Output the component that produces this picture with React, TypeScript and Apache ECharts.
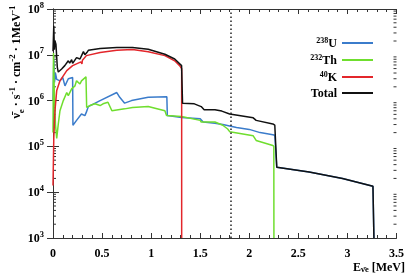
import React, { useEffect, useRef } from "react";
import * as echarts from "echarts";

// [E (MeV), flux] pairs
const u238: [number, number][] = [
  [0, 1e6], [0.008, 8e6], [0.015, 2.5e6], [0.025, 4e6], [0.038, 2.9e6], [0.071, 2.7e6],
  [0.099, 3.2e6], [0.122, 2.1e6], [0.156, 3.0e6], [0.2, 3.2e6], [0.203, 2.9e5],
  [0.24, 3.7e5], [0.29, 5.1e5], [0.325, 4.7e5], [0.34, 5.6e5], [0.36, 7.4e5],
  [0.48, 1.0e6], [0.65, 1.5e6], [0.68, 1.18e6], [0.73, 8.8e5], [0.8, 1.0e6],
  [0.97, 1.18e6], [1.16, 1.22e6], [1.165, 4.7e5], [1.31, 4.3e5], [1.5, 4.0e5],
  [1.53, 3.4e5], [1.65, 3.2e5], [1.73, 3.0e5], [1.87, 2.6e5], [2.0, 2.35e5],
  [2.11, 2.0e5], [2.24, 1.8e5], [2.26, 1.75e5], [2.28, 3.5e4], [2.61, 2.76e4],
  [2.95, 2.0e4], [3.26, 1.35e4], [3.27, 1e3],
];
const th232: [number, number][] = [
  [0, 2e5], [0.005, 1.1e7], [0.012, 2e6], [0.025, 3e5], [0.038, 1.5e5], [0.054, 3.1e5],
  [0.071, 6.0e5], [0.105, 1.0e6], [0.14, 1.5e6], [0.156, 1.28e6], [0.19, 1.8e6],
  [0.224, 2.1e6], [0.24, 2.7e6], [0.275, 2.3e6], [0.29, 2.7e6], [0.336, 3.3e6],
  [0.343, 7.1e5], [0.376, 7.8e5], [0.427, 8.5e5], [0.48, 7.8e5], [0.51, 8.5e5],
  [0.56, 9.2e5], [0.6, 6.0e5], [0.73, 6.6e5], [0.81, 7.1e5], [0.97, 7.4e5],
  [1.14, 6.0e5], [1.157, 4.7e5], [1.31, 4.5e5], [1.5, 3.7e5], [1.51, 3.4e5],
  [1.65, 3.4e5], [1.73, 2.9e5], [1.78, 2.4e5], [1.8, 2.1e5], [2.04, 1.7e5],
  [2.07, 1.35e5], [2.24, 1.05e5], [2.25, 1e5], [2.251, 1e3],
];
const k40: [number, number][] = [
  [0, 1.4e4], [0.008, 1.5e5], [0.02, 6e5], [0.038, 1.66e6], [0.071, 2.7e6],
  [0.14, 4.5e6], [0.2, 5.8e6], [0.285, 7.0e6], [0.295, 6.3e6], [0.3, 7.6e6],
  [0.34, 9.6e6], [0.48, 1.12e7], [0.65, 1.26e7], [0.81, 1.3e7], [0.97, 1.17e7],
  [1.14, 9.6e6], [1.24, 7.4e6], [1.29, 5.8e6], [1.311, 5.0e6], [1.311, 1e3],
];
const total: [number, number][] = [
  [0, 1.2e7], [0.008, 4.3e7], [0.014, 1.3e7], [0.02, 2e7], [0.03, 1.7e7],
  [0.044, 5.3e6], [0.054, 4.2e6], [0.088, 4.9e6], [0.12, 5.8e6], [0.156, 7.4e6],
  [0.17, 6.6e6], [0.19, 7.8e6], [0.2, 6.5e6], [0.24, 8.7e6], [0.275, 8.1e6],
  [0.31, 1.17e7], [0.325, 1.0e7], [0.345, 1.12e7], [0.36, 1.25e7], [0.48, 1.38e7],
  [0.65, 1.45e7], [0.81, 1.45e7], [0.97, 1.32e7], [1.14, 1.03e7], [1.24, 8.1e6],
  [1.31, 5.8e6], [1.32, 8.7e5], [1.44, 8.5e5], [1.51, 7.4e5], [1.54, 6.3e5],
  [1.65, 6.3e5], [1.72, 5.9e5], [1.8, 5.1e5], [2.04, 4.2e5], [2.07, 3.7e5],
  [2.24, 3.1e5], [2.26, 2.9e5], [2.28, 3.5e4], [2.61, 2.76e4], [2.95, 2.0e4],
  [3.26, 1.35e4], [3.27, 1e3],
];

const seriesNames = ["238U", "232Th", "40K", "Total"];
const legendLabels: Record<string, string> = {
  "238U": "{sup|238}{b|U}",
  "232Th": "{sup|232}{b|Th}",
  "40K": "{sup|40}{b|K}",
  Total: "{b|Total}",
};
const threshold = 1.806;
const xMin = 0;
const xMax = 3.5;
const xStep = 0.5;
const yMin = 1e3;
const yMax = 1e8;
const yMinorTicks: number[] = [];
for (let d = 1e3; d < 1e8; d *= 10) for (let m = 2; m <= 9; m++) yMinorTicks.push(m * d);

const FONT = "'Liberation Serif', 'Times New Roman', serif";
const AX = "#333";

export default function App() {
  const ref = useRef<HTMLDivElement>(null);
  useEffect(() => {
    document.body.style.margin = "0";
    const chart = echarts.init(ref.current!, null, { renderer: "svg" });
    const richBase = {
      b: { fontFamily: FONT, fontWeight: "bold", fontSize: 12, lineHeight: 18, color: "#000", verticalAlign: "middle" },
      sup: { fontFamily: FONT, fontWeight: "bold", fontSize: 8.5, lineHeight: 10, color: "#000", verticalAlign: "top" },
      sub: { fontFamily: FONT, fontWeight: "bold", fontSize: 8.5, lineHeight: 10, color: "#000", verticalAlign: "bottom" },
    };
    const line = (name: string, data: [number, number][], color: string, extra: any = {}) => ({
      name,
      type: "line",
      data,
      showSymbol: false,
      symbol: "none",
      color,
      lineStyle: { color, width: 1.5 },
      silent: true,
      ...extra,
    });
    chart.setOption({
      animation: false,
      grid: { left: 53, right: 10, top: 8, bottom: 40 },
      xAxis: [
        {
          type: "value", min: xMin, max: xMax, interval: xStep, position: "bottom",
          axisLine: { lineStyle: { color: AX } },
          axisTick: { inside: true, length: 5, lineStyle: { color: AX } },
          minorTick: { show: true, splitNumber: 5, length: 3, lineStyle: { color: AX } },
          splitLine: { show: false },
          axisLabel: {
            margin: 9, fontFamily: FONT, fontWeight: "bold", fontSize: 12, color: "#000",
            formatter: (v: number) => String(v),
          },
        },
        {
          type: "value", min: xMin, max: xMax, interval: xStep, position: "top",
          axisLine: { show: true, lineStyle: { color: AX } },
          axisTick: { show: true, inside: true, length: 5, lineStyle: { color: AX } },
          minorTick: { show: true, splitNumber: 5, length: 3, lineStyle: { color: AX } },
          splitLine: { show: false },
          axisLabel: { show: false },
        },
      ],
      yAxis: [
        {
          type: "log", logBase: 10, min: yMin, max: yMax, position: "left",
          axisLine: { show: true, lineStyle: { color: AX } },
          axisTick: { show: true, inside: true, length: 6, lineStyle: { color: AX } },
          splitLine: { show: false },
          axisLabel: {
            margin: 9,
            formatter: (v: number) => `{b|10}{sup|${Math.round(Math.log10(v))}}`,
            rich: richBase,
          },
        },
        {
          type: "log", logBase: 10, min: yMin, max: yMax, position: "right",
          axisLine: { show: true, lineStyle: { color: AX } },
          axisTick: { show: true, inside: true, length: 6, lineStyle: { color: AX } },
          splitLine: { show: false },
          axisLabel: { show: false },
        },
      ],
      legend: {
        data: seriesNames,
        orient: "vertical",
        right: 34,
        top: 36,
        padding: 0,
        align: "right",
        icon: "rect",
        itemWidth: 31,
        itemHeight: 2,
        itemGap: 4,
        formatter: (name: string) => legendLabels[name],
        textStyle: {
          rich: {
            b: { ...richBase.b, lineHeight: 14 },
            sup: { ...richBase.sup, fontSize: 8, lineHeight: 8 },
          },
        },
      },
      series: [
        {
          type: "custom",
          silent: true,
          clip: false,
          encode: { x: 0, y: 1 },
          data: yMinorTicks.map((v) => [xMin, v]),
          renderItem: (_p: any, api: any) => {
            const v = api.value(1);
            const l = api.coord([xMin, v]);
            const r = api.coord([xMax, v]);
            return {
              type: "group",
              children: [
                { type: "line", shape: { x1: l[0], y1: l[1], x2: l[0] + 3, y2: l[1] }, style: { stroke: AX, lineWidth: 1 } },
                { type: "line", shape: { x1: r[0] - 3, y1: r[1], x2: r[0], y2: r[1] }, style: { stroke: AX, lineWidth: 1 } },
              ],
            };
          },
        },
        line("238U", u238, "#3b7ccb"),
        line("232Th", th232, "#6fde2e"),
        line("40K", k40, "#e3262b"),
        line("Total", total, "#111111", {
          markLine: {
            silent: true,
            symbol: "none",
            label: { show: false },
            lineStyle: { color: "#222", width: 1.5, type: [1.5, 2.5] },
            data: [{ xAxis: threshold }],
          },
        }),
      ],
      graphic: [
        {
          type: "text",
          right: 2,
          top: 261,
          style: {
            text: "{b|E}{sub|ν̄e}{b| [MeV]}",
            rich: {
              b: { ...richBase.b, lineHeight: 13 },
              sub: { ...richBase.sub, lineHeight: 8 },
            },
          },
        },
        {
          type: "text",
          x: 16,
          y: 62,
          rotation: Math.PI / 2,
          style: {
            text: "{b|ν̄}{sub|e}{b| · s}{sup|-1}{b| · cm}{sup|-2}{b| · 1MeV}{sup|-1}",
            align: "center",
            verticalAlign: "middle",
            rich: {
              b: { ...richBase.b, fontSize: 12 },
              sup: { ...richBase.sup, fontSize: 9 },
              sub: { ...richBase.sub, fontSize: 9 },
            },
          },
        },
      ],
    });
    return () => chart.dispose();
  }, []);
  return <div ref={ref} style={{ position: "fixed", left: 0, top: 0, width: 407, height: 278 }} />;
}
